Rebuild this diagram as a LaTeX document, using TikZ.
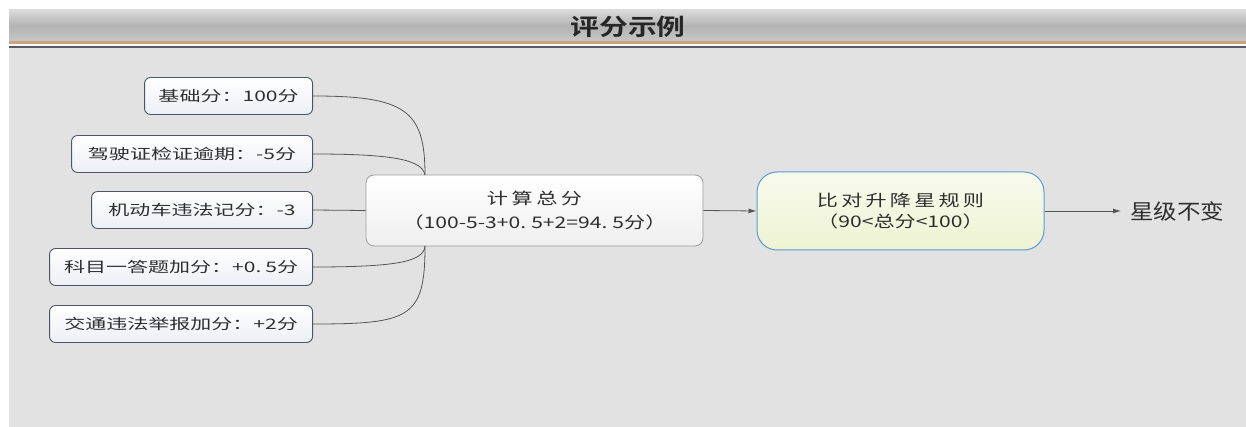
\documentclass[tikz,border=0pt]{standalone}
\usepackage{fontspec}
\usetikzlibrary{arrows.meta}

\newfontfamily\cjksmall[FakeStretch=1.45]{Noto Sans CJK SC}
\newfontfamily\cjkmid[FakeStretch=1.32]{Noto Sans CJK SC}
\newfontfamily\cjkbig[FakeStretch=1.12]{Noto Sans CJK SC}
\newfontfamily\cjktitle[FakeStretch=1.25]{Noto Sans CJK SC Bold}

\definecolor{bgpanel}{HTML}{E2E2E2}
\definecolor{bartop}{HTML}{DADADA}
\definecolor{barmid}{HTML}{B3B3B3}
\definecolor{barbot}{HTML}{C8C8C8}
\definecolor{bartan}{HTML}{C9A37A}
\definecolor{barline}{HTML}{5E5566}
\definecolor{leafedge}{HTML}{4B5567}
\definecolor{leaffill}{HTML}{ECEFF5}
\definecolor{calcedge}{HTML}{9C9C9C}
\definecolor{calcfill}{HTML}{EFEFEF}
\definecolor{ruleedge}{HTML}{5B9BD5}
\definecolor{rulefill}{HTML}{EEF3D2}
\definecolor{linkgray}{HTML}{555555}
\definecolor{textgray}{HTML}{2E2E2E}

\tikzset{
    leaf/.style = {draw = leafedge, line width = 0.9pt, rounded corners = 6pt,
        top color = white, bottom color = leaffill, anchor = east,
        minimum height = 37, text = textgray,
        font = \cjksmall\fontsize{14.5}{16}\selectfont},
    calcbox/.style = {draw = calcedge, line width = 0.8pt, rounded corners = 8pt,
        top color = white, bottom color = calcfill, minimum width = 337,
        minimum height = 71, align = center, text = textgray,
        font = \cjkmid\fontsize{16}{24}\selectfont},
    rulebox/.style = {draw = ruleedge, line width = 1pt, rounded corners = 20pt,
        top color = white!60!rulefill, bottom color = rulefill, minimum width = 287,
        minimum height = 78, align = center, text = textgray,
        font = \cjkmid\fontsize{16}{21}\selectfont},
    link/.style = {draw = linkgray, line width = 0.8pt},
}

\begin{document}
\begin{tikzpicture}[x = 1pt, y = -1pt, > = {Latex[length = 8pt, width = 5pt]}]

\useasboundingbox (0, 0) rectangle (1246, 427);

% Panel and title bar
    \fill[bgpanel] (9, 48) rectangle (1246, 427);
    \shade[top color = bartop, bottom color = barbot, middle color = barmid] (9, 10) rectangle (1246, 42);
    \fill[bartan] (9, 41.5) rectangle (1246, 44);
    \fill[white] (9, 44) rectangle (1246, 46.5);
    \fill[barline] (9, 46.5) rectangle (1246, 48);
    \node[font = \cjktitle\fontsize{23}{23}\selectfont, text = black!85] (title) at (628, 27) {评分示例};

% Nodes
    \node[leaf, minimum width = 168] (base) at (313, 96) {基础分：100分};
    \node[leaf, minimum width = 241] (licence) at (313, 154) {驾驶证检证逾期：-5分};
    \node[leaf, minimum width = 221] (motor) at (313, 210) {机动车违法记分：-3};
    \node[leaf, minimum width = 263] (exam) at (313, 267) {科目一答题加分：+0.\hspace{4pt}5分};
    \node[leaf, minimum width = 263] (report) at (313, 324) {交通违法举报加分：+2分};

    \node[calcbox] (calc) at (534.5, 210.5) {{\addfontfeature{LetterSpace=22}计算总分}\\（100-5-3+0.\hspace{5pt}5+2=94.\hspace{5pt}5分）};
    \node[rulebox] (rule) at (900.5, 211) {{\addfontfeature{LetterSpace=20}比对升降星规则}\\（90<总分<100）};
    \node[anchor = west, inner xsep = 9pt, inner ysep = 0pt, text = textgray,
        font = \cjkbig\fontsize{21}{21}\selectfont] (result) at (1121, 211) {星级不变};

    \coordinate (top) at (425, 175);
    \coordinate (bot) at (425, 246);

% Branches
    \draw[link] (base.east) .. controls (405, 96) and (425, 110) .. (top);
    \draw[link] (licence.east) .. controls (395, 154) and (422, 160) .. (top);
    \draw[link] (motor.east) -- (calc.west);
    \draw[link] (bot) .. controls (424, 262) and (395, 267) .. (exam.east);
    \draw[link] (bot) .. controls (425, 318) and (410, 324) .. (report.east);

% Directions
    \draw[link, ->] (calc.east) -- (rule.west);
    \draw[link, ->] (rule.east) -- (result.west);

\end{tikzpicture}
\end{document}
